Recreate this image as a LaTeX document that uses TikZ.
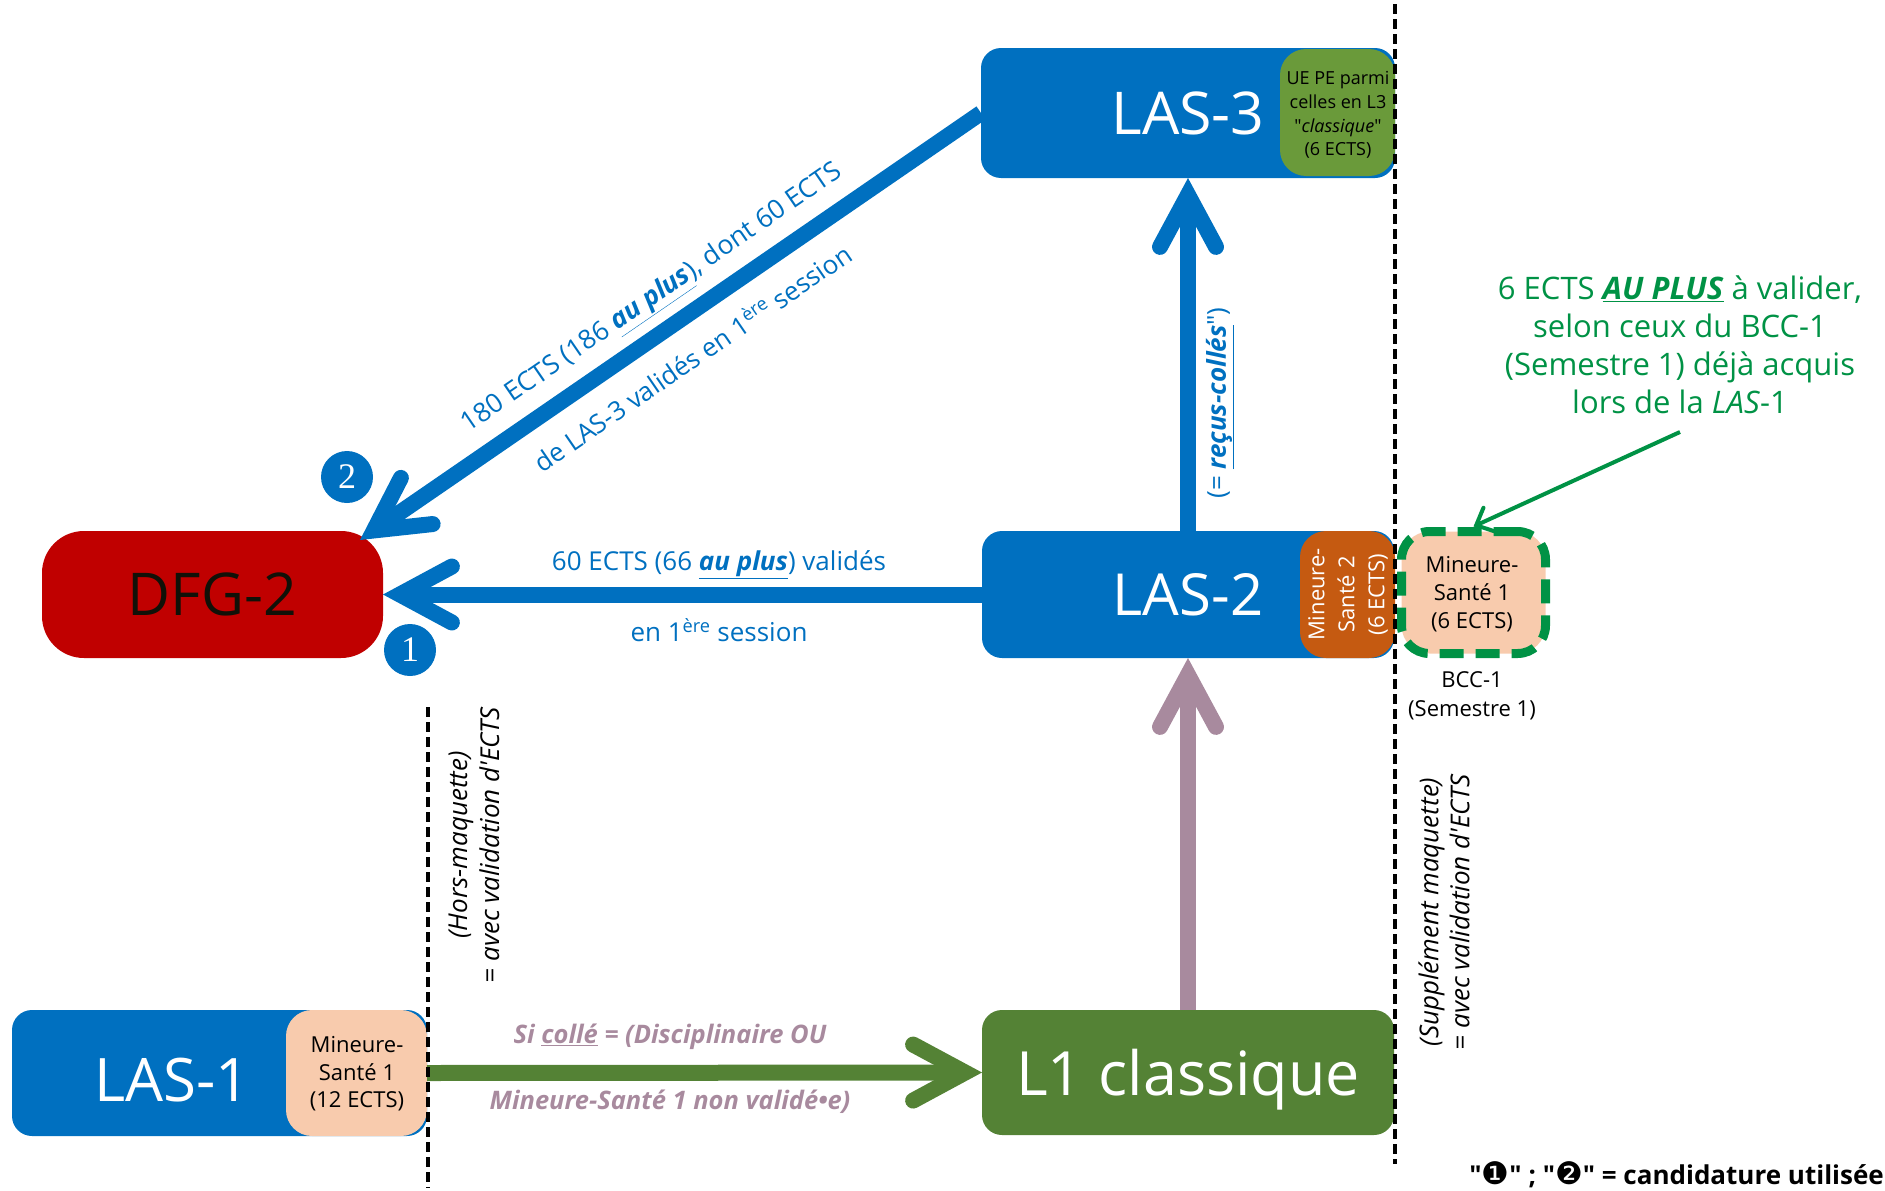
\documentclass[tikz,border=0pt]{standalone}
\usepackage{fontspec}
\setmainfont{Open Sans}[Ligatures=TeXOff]
\newfontfamily\djv{DejaVu Sans}
\newfontfamily\serifdig{Liberation Serif}
\usetikzlibrary{arrows.meta}
\definecolor{cblue}{RGB}{0,112,192}
\definecolor{cred}{RGB}{192,0,0}
\definecolor{cgreen}{RGB}{84,130,53}
\definecolor{cpeach}{RGB}{248,203,173}
\definecolor{corange}{RGB}{197,90,17}
\definecolor{cuegreen}{RGB}{106,154,58}
\definecolor{cnote}{RGB}{0,146,69}
\definecolor{cmauve}{RGB}{168,138,158}
\definecolor{cdark}{RGB}{17,17,8}
\newcommand\fs[2]{\fontsize{#1}{#2}\selectfont}
\begin{document}
\begin{tikzpicture}[x=1pt,y=-1pt,
  box/.style={rectangle, rounded corners=20pt, inner sep=0pt, outer sep=0pt},
  subbox/.style={rectangle, rounded corners=26pt, inner sep=0pt, outer sep=0pt},
  bigarrow/.style={line width=16pt, -{Straight Barb[length=52pt,width=56pt,line cap=round,line join=miter]}},
  sepline/.style={black, line width=3.5pt, dash pattern=on 10pt off 5pt},
  lbl/.style={inner sep=0pt, align=center},
  numdot/.style={circle, fill=cblue, minimum size=52pt, inner sep=0pt, text=white, font=\serifdig\fs{36}{36}},
]
\useasboundingbox (0,0) rectangle (1885,1191);

% LAS-3
\node[box, fill=cblue, minimum width=414pt, minimum height=130pt, text=white, font=\fs{59}{64}] (las3) at (1188,113) {LAS-3};
\node[subbox, fill=cuegreen, minimum width=115pt, minimum height=127pt] (las3ue) at (1337.5,112.5) {};
\node[lbl, font=\fs{18}{23.7}] (las3uet) at (1338,115) {UE PE parmi\\celles en L3\\"\textit{classique}"\\(6 ECTS)};

% LAS-2
\node[box, fill=cblue, minimum width=412pt, minimum height=127pt, text=white, font=\fs{58}{64}] (las2) at (1188,594.5) {LAS-2};
\node[subbox, fill=corange, minimum width=95pt, minimum height=127pt] (las2m) at (1347.5,594.5) {};
\node[lbl, rotate=90, text=white, font=\fs{22}{30}] (las2mt) at (1348,594.5) {Mineure-\\Santé 2\\(6 ECTS)};

% DFG-2
\node[box, rounded corners=42pt, fill=cred, minimum width=341pt, minimum height=127pt, text=cdark, font=\fs{59}{64}] (dfg2) at (212.5,594.5) {DFG-2};

% L1 classique
\node[box, fill=cgreen, minimum width=412pt, minimum height=125pt, text=white, text depth=0pt, font=\fs{61}{66}] (l1) at (1188,1072.5) {L1 classique};

% LAS-1
\node[box, fill=cblue, minimum width=415pt, minimum height=126pt] (las1) at (219.5,1073) {};
\node[subbox, fill=cpeach, minimum width=141pt, minimum height=126pt] (las1m) at (356.5,1073) {};
\node[lbl, text=white, font=\fs{60}{64}] (las1t) at (172,1080) {LAS-1};
\node[lbl, font=\fs{22}{27.5}] (las1mt) at (357,1074) {Mineure-\\Santé 1\\(12 ECTS)};

% BCC-1 box
\node[subbox, rounded corners=28pt, fill=cpeach, draw=cnote, line width=9pt, dash pattern=on 24pt off 12pt, minimum width=144pt, minimum height=122pt] (bcc) at (1473.5,592.5) {};
\node[lbl, font=\fs{22}{28}] (bcct) at (1472,594) {Mineure-\\Santé 1\\(6 ECTS)};
\node[lbl, font=\fs{22}{29}] (bccl) at (1472,696) {BCC-1\\(Semestre 1)};

% callout
\node[lbl, text=cnote, font=\fs{31}{38}] (note) at (1680,345) {6 ECTS \underline{\textbf{\textit{AU PLUS}}} à valider,\\selon ceux du BCC-1\\(Semestre 1) déjà acquis\\lors de la \textit{LAS}-1};
\coordinate (notetail) at (1680,432);
\draw[cnote, line width=4pt, -{Straight Barb[length=14pt,width=26pt,line cap=round,line join=miter]}] (notetail) -- ([yshift=5pt]bcc.north);

% arrows
\coordinate (tip2) at (360,540);
\draw[bigarrow, cblue] (las3.west) -- (tip2);
\draw[bigarrow, cblue] (las2.west) -- (dfg2.east);
\draw[bigarrow, cblue] (las2.north) -- (las3.south);
\draw[bigarrow, cmauve] (l1.north) -- (las2.south);
\draw[bigarrow, cgreen] (las1.east) -- (l1.west);

% numbered dots
\node[numdot] (n2) at (347,477) {2};
\node[numdot] (n1) at (410,650) {1};

% arrow labels
\node[lbl, text=cblue, font=\fs{26}{30}] (lab1a) at (719,565) {60 ECTS (66 \underline{\textbf{\textit{au plus}}}) validés};
\node[lbl, text=cblue, font=\fs{26}{30}] (lab1b) at (719,630) {en 1\textsuperscript{ère} session};
\node[lbl, text=cblue, font=\fs{26.5}{30}, rotate=34.5] (lab2a) at (653,299) {180 ECTS (186 \underline{\textbf{\textit{au plus}}}), dont 60 ECTS};
\node[lbl, text=cblue, font=\fs{26}{30}, rotate=34.5] (lab2b) at (692,357) {de LAS-3 validés en 1\textsuperscript{ère} session};
\node[lbl, text=cblue, font=\fs{26}{30}, rotate=90] (lab3) at (1220,403) {(= \underline{\textbf{\textit{reçus-collés}}}")};
\node[lbl, text=cmauve, font=\fs{25.5}{30}\bfseries\itshape] (lab4a) at (670,1037) {Si \underline{collé} = (Disciplinaire OU};
\node[lbl, text=cmauve, font=\fs{25.5}{30}\bfseries\itshape] (lab4b) at (670,1102) {Mineure-Santé 1 non validé•e)};

% separators
\draw[sepline] (428,707) -- (428,1188);
\draw[sepline] (1395,4) -- (1395,1164);
\node[lbl, rotate=90, font=\fs{26}{32}\itshape] (hm) at (474,845) {(Hors-maquette)\\= avec validation d'ECTS};
\node[lbl, rotate=90, font=\fs{26}{31}\itshape] (sm) at (1444,912) {(Supplément maquette)\\= avec validation d'ECTS};

% legend
\node[lbl, anchor=east, font=\fs{26}{30}\bfseries] (legend) at (1884,1175) {"{\djv\mdseries\fs{31}{31}❶}" ; "{\djv\mdseries\fs{31}{31}❷}" = candidature utilisée};
\end{tikzpicture}
\end{document}
